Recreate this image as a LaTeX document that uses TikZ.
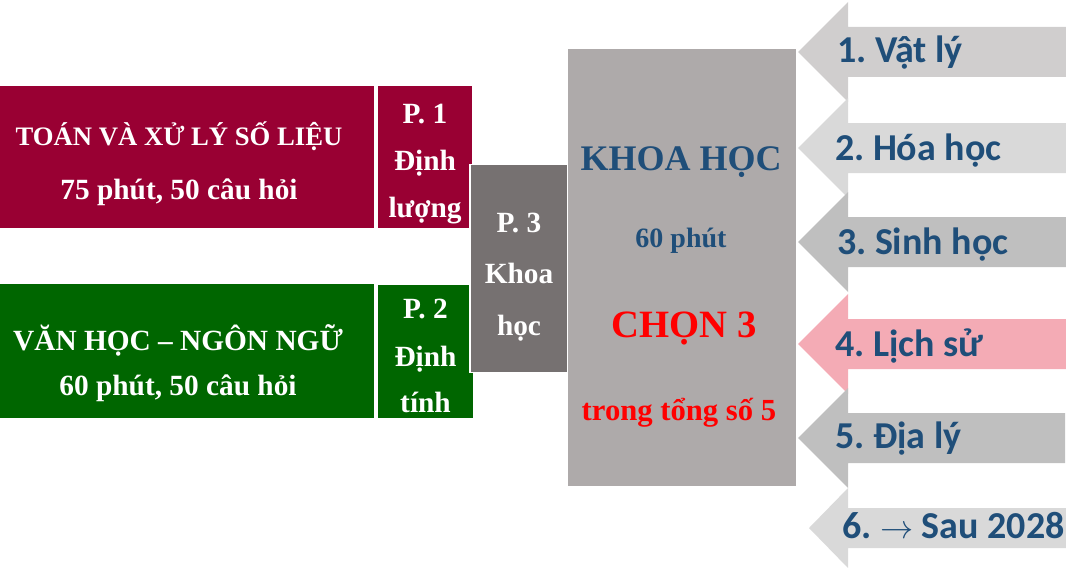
\documentclass[tikz,border=0pt]{standalone}
\usepackage{fontspec}
\setmainfont{Liberation Serif}
\newfontfamily\carl{Carlito}
\definecolor{maroon}{HTML}{990033}
\definecolor{dgreen}{HTML}{006600}
\definecolor{pthree}{HTML}{767171}
\definecolor{bigbox}{HTML}{AEAAAA}
\definecolor{aone}{HTML}{D0CECE}
\definecolor{atwo}{HTML}{D9D9D9}
\definecolor{athree}{HTML}{BFBFBF}
\definecolor{afour}{HTML}{F4ABB5}
\definecolor{navy}{HTML}{1F4E79}
\definecolor{brred}{HTML}{FF0000}
\frenchspacing
\tikzset{
  box/.style 2 args={draw=white, line width=1.1pt, inner sep=0pt, outer sep=0pt,
     minimum width=#1*0.75pt, minimum height=#2*0.75pt},
  txt/.style={anchor=base, inner sep=0pt, outer sep=0pt, font=\bfseries},
  wtxt/.style={txt, text=white},
  atxt/.style={anchor=base west, inner sep=0pt, outer sep=0pt, text=navy,
     font=\carl\bfseries\fontsize{28.5}{32}\selectfont},
}
\newcommand{\fsz}[1]{\fontsize{#1}{#1}\selectfont}
\begin{document}
\begin{tikzpicture}[x=0.75pt,y=-0.75pt]
\useasboundingbox (0,0) rectangle (1066,567);
% left boxes
\node[box={376}{143}, fill=maroon] (toanbox) at (187,157) {};
\node[box={96}{144}, fill=maroon] (p1box) at (425,157) {};
\node[box={376}{135}, fill=dgreen] (vanbox) at (187,351) {};
\node[box={96}{135}, fill=dgreen] (p2box) at (425.5,351.5) {};
\node[box={98}{208}, fill=pthree] (p3box) at (519,268.5) {};
\node[box={228}{436}, fill=bigbox, draw=none] (khbox) at (681.5,267.5) {};
% arrows
\fill[aone]   (798,52)  -- (848,2)   -- (848,27)  -- (1066,27)  -- (1066,77)  -- (848,77)  -- (848,102) -- cycle;
\fill[atwo]   (798,148) -- (848,98)  -- (848,123) -- (1066,123) -- (1066,173) -- (848,173) -- (848,198) -- cycle;
\fill[athree] (798,242) -- (848,192) -- (848,217) -- (1066,217) -- (1066,267) -- (848,267) -- (848,292) -- cycle;
\fill[afour]  (798,344) -- (848,294) -- (848,319) -- (1066,319) -- (1066,369) -- (848,369) -- (848,394) -- cycle;
\fill[athree] (798,438) -- (848,388) -- (848,413) -- (1065,413) -- (1065,463) -- (848,463) -- (848,488) -- cycle;
\fill[atwo]   (809,528) -- (848,488) -- (848,508) -- (1066,508) -- (1066,548) -- (848,548) -- (848,568) -- cycle;
% left texts
\node[wtxt, font=\bfseries\fsz{20}] (toan1) at (179,145) {TOÁN VÀ XỬ LÝ SỐ LIỆU};
\node[wtxt, font=\bfseries\fsz{22}] (toan2) at (179,199) {75 phút, 50 câu hỏi};
\node[wtxt, font=\bfseries\fsz{22}] (van1) at (178,350) {VĂN HỌC – NGÔN NGỮ};
\node[wtxt, font=\bfseries\fsz{22}] (van2) at (178,395) {60 phút, 50 câu hỏi};
% P texts
\node[wtxt, font=\bfseries\fsz{22}] (p1a) at (425,123) {P. 1};
\node[wtxt, font=\bfseries\fsz{22}] (p1b) at (425,170) {Định};
\node[wtxt, font=\bfseries\fsz{22}] (p1c) at (425,217) {lượng};
\node[wtxt, font=\bfseries\fsz{22}] (p2a) at (425.5,318) {P. 2};
\node[wtxt, font=\bfseries\fsz{22}] (p2b) at (425.5,366) {Định};
\node[wtxt, font=\bfseries\fsz{22}] (p2c) at (425.5,412) {tính};
\node[wtxt, font=\bfseries\fsz{22}] (p3a) at (519,232) {P. 3};
\node[wtxt, font=\bfseries\fsz{22}] (p3b) at (519,283) {Khoa};
\node[wtxt, font=\bfseries\fsz{22}] (p3c) at (519,335) {học};
% big box texts
\node[txt, text=navy, font=\bfseries\fsz{27}] (kh1) at (681,170) {KHOA HỌC};
\node[txt, text=navy, font=\bfseries\fsz{21}] (kh2) at (681,247) {60 phút};
\node[txt, text=brred, font=\bfseries\fsz{29}] (kh3) at (684,337) {CHỌN 3};
\node[txt, text=brred, font=\bfseries\fsz{23}] (kh4) at (679,420) {trong tổng số 5};
% arrow texts
\node[atxt] (s1) at (837,63) {1. Vật lý};
\node[atxt] (s2) at (835,160) {2. Hóa học};
\node[atxt] (s3) at (837,254) {3. Sinh học};
\node[atxt] (s4) at (835,356) {4. Lịch sử};
\node[atxt] (s5) at (835,448) {5. Địa lý};
\node[atxt] (s6) at (842,538) {6. $\rightarrow$ Sau 2028};
\end{tikzpicture}
\end{document}
